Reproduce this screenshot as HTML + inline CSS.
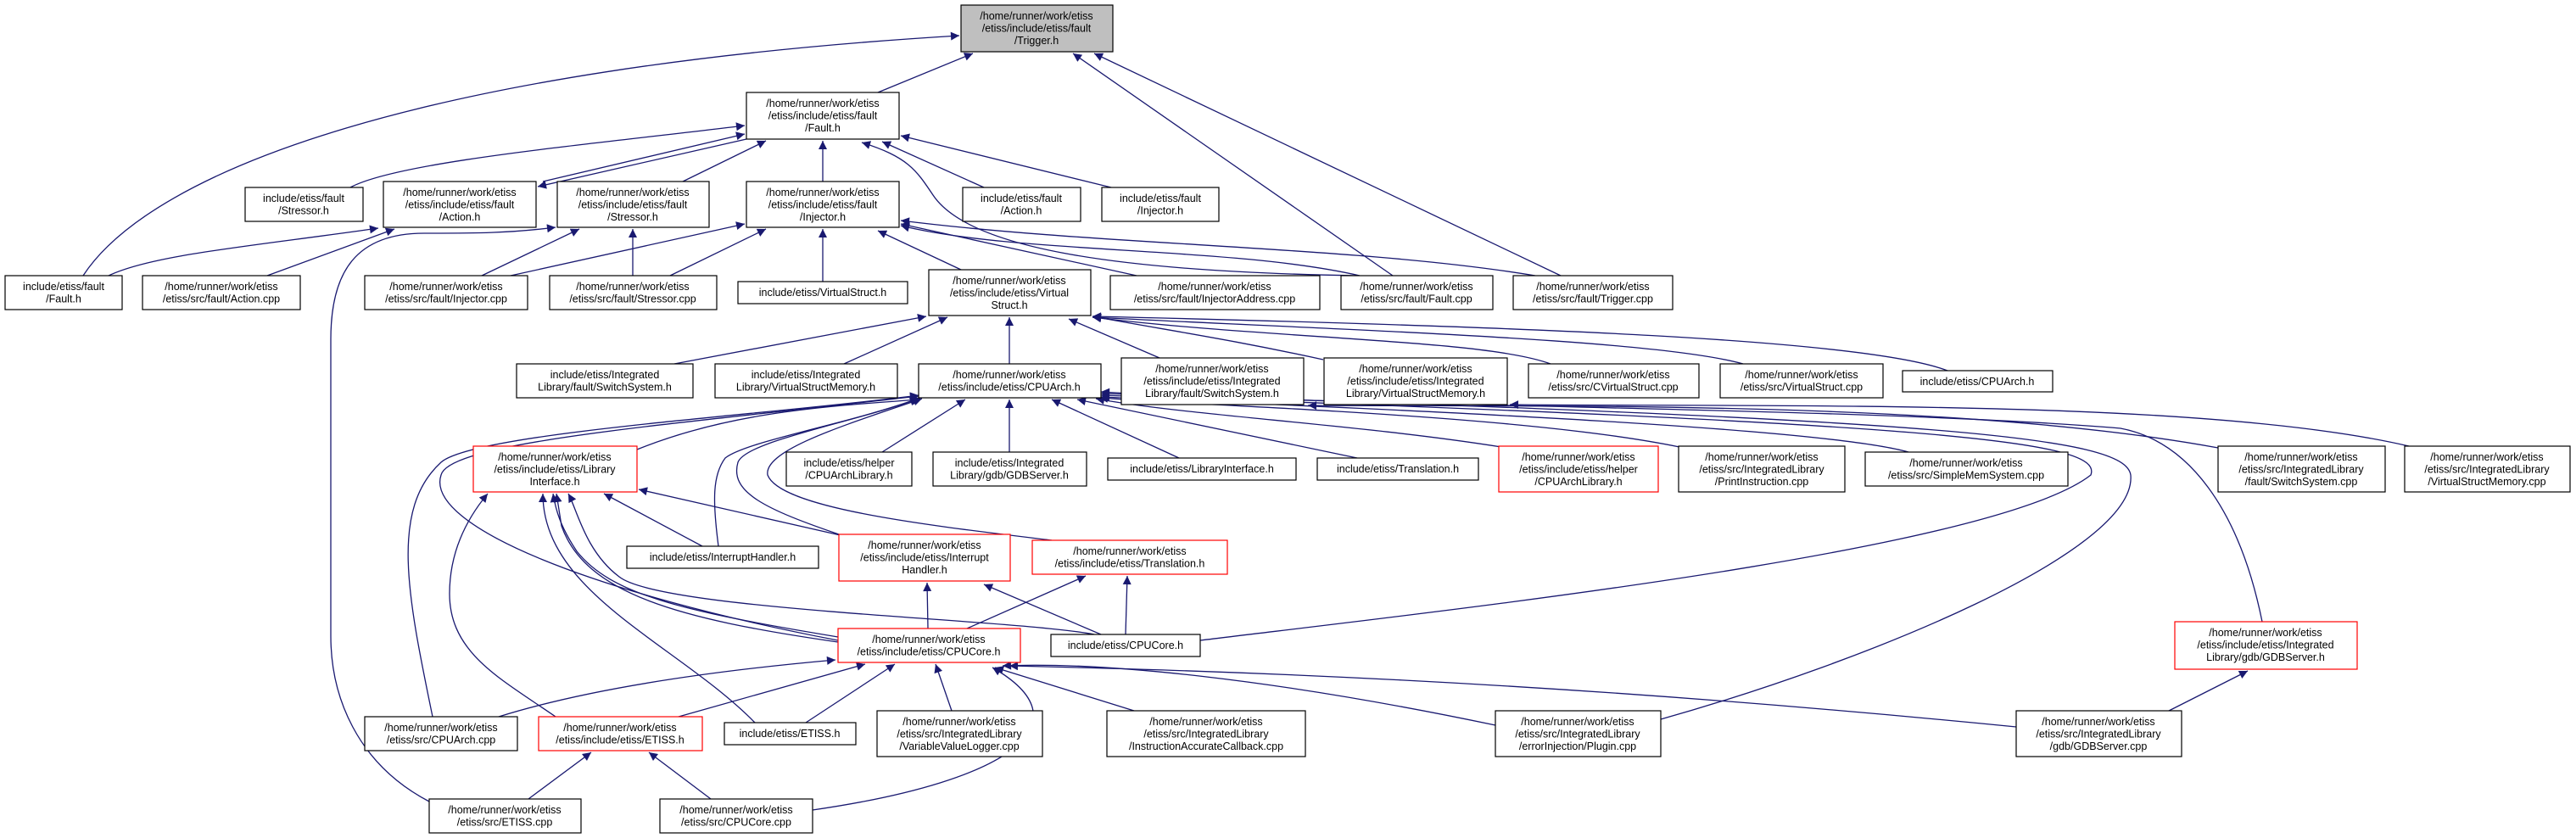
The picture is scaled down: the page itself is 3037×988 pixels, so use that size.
<!DOCTYPE html>
<html><head><meta charset="utf-8"><style>
html,body{margin:0;padding:0;background:#fff;}
svg{display:block}
text{font-family:"Liberation Sans",sans-serif;font-size:12.5px;fill:#000;text-anchor:middle}
.b{fill:#fff;stroke:#000;stroke-width:1.2}
.r{fill:#fff;stroke:#ff0000;stroke-width:1.2}
.g{fill:#bfbfbf;stroke:#000;stroke-width:1.2}
path.e{fill:none;stroke:#191970;stroke-width:1.3;marker-end:url(#ah)}
</style></head><body>
<svg width="3037" height="988" viewBox="0 0 3037 988" xmlns="http://www.w3.org/2000/svg">
<defs><marker id="ah" viewBox="0 0 10 10" refX="10" refY="5" markerWidth="13" markerHeight="10" markerUnits="userSpaceOnUse" orient="auto"><path d="M0,0 L10,5 L0,10 z" fill="#191970"/></marker></defs>

<!-- edges -->
<path class="e" d="M1035,109 L1147,63"/>
<path class="e" d="M98,325 C180,200 500,80 1131,42"/>
<path class="e" d="M1642,325 L1265,63"/>
<path class="e" d="M1840,325 L1290,63"/>
<path class="e" d="M413,221 C470,190 700,170 878,148"/>
<path class="e" d="M640,214 L878,158"/>
<path class="e" d="M880,164 L634,220"/>
<path class="e" d="M805,214 L903,166"/>
<path class="e" d="M970,214 L970,166"/>
<path class="e" d="M1160,221 L1040,167"/>
<path class="e" d="M1310,221 L1062,160"/>
<path class="e" d="M1600,325 C1300,320 1140,290 1100,230 C1080,200 1070,185 1016,168"/>
<path class="e" d="M128,325 C180,300 300,290 446,269"/>
<path class="e" d="M315,325 L465,270"/>
<path class="e" d="M506,945 C420,900 390,820 390,750 L390,400 C390,320 420,275 500,275 C560,275 600,275 655,268"/>
<path class="e" d="M568,325 L683,270"/>
<path class="e" d="M746,325 L746,270"/>
<path class="e" d="M602,325 L878,264"/>
<path class="e" d="M790,325 L903,270"/>
<path class="e" d="M970,332 L970,270"/>
<path class="e" d="M1133,318 L1035,272"/>
<path class="e" d="M1340,325 L1062,264"/>
<path class="e" d="M1603,325 C1450,290 1200,300 1062,266"/>
<path class="e" d="M1810,325 C1600,290 1300,290 1062,260"/>
<path class="e" d="M795,429 L1092,373"/>
<path class="e" d="M995,429 L1117,374"/>
<path class="e" d="M1190,429 L1190,374"/>
<path class="e" d="M1367,422 L1260,376"/>
<path class="e" d="M1560,424 C1450,400 1380,390 1288,373"/>
<path class="e" d="M1828,429 C1750,400 1500,400 1288,374"/>
<path class="e" d="M2055,429 C1950,400 1600,390 1288,374"/>
<path class="e" d="M2296,437 C2200,400 1800,385 1288,373"/>
<path class="e" d="M2615,528 C2300,470 1800,480 1542,478"/>
<path class="e" d="M2840,526 C2600,470 2100,480 1780,477"/>
<path class="e" d="M751,530 C850,490 950,480 1085,471"/>
<path class="e" d="M1040,533 L1138,471"/>
<path class="e" d="M1190,533 L1190,471"/>
<path class="e" d="M1390,540 L1240,471"/>
<path class="e" d="M1600,540 L1270,471"/>
<path class="e" d="M1770,527 C1600,500 1400,490 1292,470"/>
<path class="e" d="M1980,527 C1800,490 1450,480 1296,469"/>
<path class="e" d="M2250,533 C2150,505 1700,485 1298,468"/>
<path class="e" d="M847,644 C840,590 840,560 855,540 C880,520 1000,500 1083,470"/>
<path class="e" d="M995,632 C900,600 860,580 870,545 C880,520 1000,500 1085,469"/>
<path class="e" d="M1240,637 C1100,620 920,600 905,560 C900,530 1000,500 1087,470"/>
<path class="e" d="M988,755 C700,700 500,620 520,560 C530,520 800,500 1083,467"/>
<path class="e" d="M510,845 C480,700 460,600 520,545 C560,510 900,490 1083,466"/>
<path class="e" d="M1415,755 C1700,720 2350,650 2465,560 C2480,520 2300,500 1298,466"/>
<path class="e" d="M1958,848 C2200,780 2520,650 2512,560 C2505,515 2300,495 1298,464"/>
<path class="e" d="M2667,733 C2640,600 2580,520 2500,505 C2200,480 1600,480 1298,462"/>
<path class="e" d="M828,644 L712,582"/>
<path class="e" d="M995,632 L753,577"/>
<path class="e" d="M988,751 C800,720 720,700 680,650 C660,620 655,600 652,582"/>
<path class="e" d="M988,757 C800,730 690,700 662,620 L656,582"/>
<path class="e" d="M655,845 C590,800 530,770 530,700 C530,640 560,600 575,582"/>
<path class="e" d="M890,852 C800,760 640,700 640,582"/>
<path class="e" d="M1290,748 C1200,730 780,720 730,680 C690,650 680,600 670,582"/>
<path class="e" d="M1094,741 L1093,687"/>
<path class="e" d="M1298,748 L1160,689"/>
<path class="e" d="M1140,741 L1280,679"/>
<path class="e" d="M1327,748 L1329,679"/>
<path class="e" d="M588,845 C700,810 850,790 985,778"/>
<path class="e" d="M800,845 L1020,783"/>
<path class="e" d="M950,852 L1055,783"/>
<path class="e" d="M1122,838 L1103,783"/>
<path class="e" d="M1337,838 L1173,787"/>
<path class="e" d="M1763,855 C1500,800 1300,780 1182,785"/>
<path class="e" d="M2377,857 C1800,800 1400,790 1190,785"/>
<path class="e" d="M958,955 C1200,920 1280,850 1170,787"/>
<path class="e" d="M623,942 L697,887"/>
<path class="e" d="M838,942 L765,887"/>
<path class="e" d="M2557,838 L2650,791"/>

<!-- nodes -->
<rect class="g" x="1133" y="6" width="179" height="55"/><text x="1222" y="23"><tspan x="1222">/home/runner/work/etiss</tspan><tspan x="1222" dy="14.5">/etiss/include/etiss/fault</tspan><tspan x="1222" dy="14.5">/Trigger.h</tspan></text>
<rect class="b" x="880" y="109" width="180" height="55"/><text x="970" y="126"><tspan x="970">/home/runner/work/etiss</tspan><tspan x="970" dy="14.5">/etiss/include/etiss/fault</tspan><tspan x="970" dy="14.5">/Fault.h</tspan></text>
<rect class="b" x="289" y="221" width="139" height="40"/><text x="358" y="238"><tspan x="358">include/etiss/fault</tspan><tspan x="358" dy="14.5">/Stressor.h</tspan></text>
<rect class="b" x="452" y="214" width="180" height="54"/><text x="542" y="231"><tspan x="542">/home/runner/work/etiss</tspan><tspan x="542" dy="14.5">/etiss/include/etiss/fault</tspan><tspan x="542" dy="14.5">/Action.h</tspan></text>
<rect class="b" x="657" y="214" width="179" height="54"/><text x="746" y="231"><tspan x="746">/home/runner/work/etiss</tspan><tspan x="746" dy="14.5">/etiss/include/etiss/fault</tspan><tspan x="746" dy="14.5">/Stressor.h</tspan></text>
<rect class="b" x="880" y="214" width="180" height="54"/><text x="970" y="231"><tspan x="970">/home/runner/work/etiss</tspan><tspan x="970" dy="14.5">/etiss/include/etiss/fault</tspan><tspan x="970" dy="14.5">/Injector.h</tspan></text>
<rect class="b" x="1135" y="221" width="139" height="40"/><text x="1204" y="238"><tspan x="1204">include/etiss/fault</tspan><tspan x="1204" dy="14.5">/Action.h</tspan></text>
<rect class="b" x="1299" y="221" width="138" height="40"/><text x="1368" y="238"><tspan x="1368">include/etiss/fault</tspan><tspan x="1368" dy="14.5">/Injector.h</tspan></text>
<rect class="b" x="6" y="325" width="138" height="40"/><text x="75" y="342"><tspan x="75">include/etiss/fault</tspan><tspan x="75" dy="14.5">/Fault.h</tspan></text>
<rect class="b" x="168" y="325" width="186" height="40"/><text x="261" y="342"><tspan x="261">/home/runner/work/etiss</tspan><tspan x="261" dy="14.5">/etiss/src/fault/Action.cpp</tspan></text>
<rect class="b" x="430" y="325" width="192" height="40"/><text x="526" y="342"><tspan x="526">/home/runner/work/etiss</tspan><tspan x="526" dy="14.5">/etiss/src/fault/Injector.cpp</tspan></text>
<rect class="b" x="648" y="325" width="197" height="40"/><text x="746" y="342"><tspan x="746">/home/runner/work/etiss</tspan><tspan x="746" dy="14.5">/etiss/src/fault/Stressor.cpp</tspan></text>
<rect class="b" x="870" y="332" width="200" height="26"/><text x="970" y="349">include/etiss/VirtualStruct.h</text>
<rect class="b" x="1095" y="318" width="191" height="54"/><text x="1190" y="335"><tspan x="1190">/home/runner/work/etiss</tspan><tspan x="1190" dy="14.5">/etiss/include/etiss/Virtual</tspan><tspan x="1190" dy="14.5">Struct.h</tspan></text>
<rect class="b" x="1309" y="325" width="247" height="40"/><text x="1432" y="342"><tspan x="1432">/home/runner/work/etiss</tspan><tspan x="1432" dy="14.5">/etiss/src/fault/InjectorAddress.cpp</tspan></text>
<rect class="b" x="1581" y="325" width="179" height="40"/><text x="1670" y="342"><tspan x="1670">/home/runner/work/etiss</tspan><tspan x="1670" dy="14.5">/etiss/src/fault/Fault.cpp</tspan></text>
<rect class="b" x="1784" y="325" width="188" height="40"/><text x="1878" y="342"><tspan x="1878">/home/runner/work/etiss</tspan><tspan x="1878" dy="14.5">/etiss/src/fault/Trigger.cpp</tspan></text>
<rect class="b" x="609" y="429" width="208" height="40"/><text x="713" y="446"><tspan x="713">include/etiss/Integrated</tspan><tspan x="713" dy="14.5">Library/fault/SwitchSystem.h</tspan></text>
<rect class="b" x="843" y="429" width="215" height="40"/><text x="950" y="446"><tspan x="950">include/etiss/Integrated</tspan><tspan x="950" dy="14.5">Library/VirtualStructMemory.h</tspan></text>
<rect class="b" x="1083" y="429" width="215" height="40"/><text x="1190" y="446"><tspan x="1190">/home/runner/work/etiss</tspan><tspan x="1190" dy="14.5">/etiss/include/etiss/CPUArch.h</tspan></text>
<rect class="b" x="1322" y="422" width="215" height="55"/><text x="1429" y="439"><tspan x="1429">/home/runner/work/etiss</tspan><tspan x="1429" dy="14.5">/etiss/include/etiss/Integrated</tspan><tspan x="1429" dy="14.5">Library/fault/SwitchSystem.h</tspan></text>
<rect class="b" x="1561" y="422" width="216" height="55"/><text x="1669" y="439"><tspan x="1669">/home/runner/work/etiss</tspan><tspan x="1669" dy="14.5">/etiss/include/etiss/Integrated</tspan><tspan x="1669" dy="14.5">Library/VirtualStructMemory.h</tspan></text>
<rect class="b" x="1802" y="429" width="201" height="40"/><text x="1902" y="446"><tspan x="1902">/home/runner/work/etiss</tspan><tspan x="1902" dy="14.5">/etiss/src/CVirtualStruct.cpp</tspan></text>
<rect class="b" x="2028" y="429" width="192" height="40"/><text x="2124" y="446"><tspan x="2124">/home/runner/work/etiss</tspan><tspan x="2124" dy="14.5">/etiss/src/VirtualStruct.cpp</tspan></text>
<rect class="b" x="2243" y="437" width="177" height="25"/><text x="2331" y="454">include/etiss/CPUArch.h</text>
<rect class="r" x="558" y="526" width="193" height="54"/><text x="654" y="543"><tspan x="654">/home/runner/work/etiss</tspan><tspan x="654" dy="14.5">/etiss/include/etiss/Library</tspan><tspan x="654" dy="14.5">Interface.h</tspan></text>
<rect class="b" x="927" y="533" width="148" height="40"/><text x="1001" y="550"><tspan x="1001">include/etiss/helper</tspan><tspan x="1001" dy="14.5">/CPUArchLibrary.h</tspan></text>
<rect class="b" x="1100" y="533" width="181" height="40"/><text x="1190" y="550"><tspan x="1190">include/etiss/Integrated</tspan><tspan x="1190" dy="14.5">Library/gdb/GDBServer.h</tspan></text>
<rect class="b" x="1306" y="540" width="222" height="26"/><text x="1417" y="557">include/etiss/LibraryInterface.h</text>
<rect class="b" x="1553" y="540" width="190" height="26"/><text x="1648" y="557">include/etiss/Translation.h</text>
<rect class="r" x="1767" y="526" width="188" height="54"/><text x="1861" y="543"><tspan x="1861">/home/runner/work/etiss</tspan><tspan x="1861" dy="14.5">/etiss/include/etiss/helper</tspan><tspan x="1861" dy="14.5">/CPUArchLibrary.h</tspan></text>
<rect class="b" x="1979" y="526" width="196" height="54"/><text x="2077" y="543"><tspan x="2077">/home/runner/work/etiss</tspan><tspan x="2077" dy="14.5">/etiss/src/IntegratedLibrary</tspan><tspan x="2077" dy="14.5">/PrintInstruction.cpp</tspan></text>
<rect class="b" x="2199" y="533" width="239" height="40"/><text x="2318" y="550"><tspan x="2318">/home/runner/work/etiss</tspan><tspan x="2318" dy="14.5">/etiss/src/SimpleMemSystem.cpp</tspan></text>
<rect class="b" x="2615" y="526" width="197" height="54"/><text x="2713" y="543"><tspan x="2713">/home/runner/work/etiss</tspan><tspan x="2713" dy="14.5">/etiss/src/IntegratedLibrary</tspan><tspan x="2713" dy="14.5">/fault/SwitchSystem.cpp</tspan></text>
<rect class="b" x="2835" y="526" width="195" height="54"/><text x="2932" y="543"><tspan x="2932">/home/runner/work/etiss</tspan><tspan x="2932" dy="14.5">/etiss/src/IntegratedLibrary</tspan><tspan x="2932" dy="14.5">/VirtualStructMemory.cpp</tspan></text>
<rect class="b" x="739" y="644" width="226" height="26"/><text x="852" y="661">include/etiss/InterruptHandler.h</text>
<rect class="r" x="989" y="630" width="202" height="55"/><text x="1090" y="647"><tspan x="1090">/home/runner/work/etiss</tspan><tspan x="1090" dy="14.5">/etiss/include/etiss/Interrupt</tspan><tspan x="1090" dy="14.5">Handler.h</tspan></text>
<rect class="r" x="1217" y="637" width="230" height="40"/><text x="1332" y="654"><tspan x="1332">/home/runner/work/etiss</tspan><tspan x="1332" dy="14.5">/etiss/include/etiss/Translation.h</tspan></text>
<rect class="r" x="988" y="741" width="215" height="40"/><text x="1095" y="758"><tspan x="1095">/home/runner/work/etiss</tspan><tspan x="1095" dy="14.5">/etiss/include/etiss/CPUCore.h</tspan></text>
<rect class="b" x="1239" y="748" width="176" height="26"/><text x="1327" y="765">include/etiss/CPUCore.h</text>
<rect class="r" x="2564" y="733" width="215" height="56"/><text x="2671" y="750"><tspan x="2671">/home/runner/work/etiss</tspan><tspan x="2671" dy="14.5">/etiss/include/etiss/Integrated</tspan><tspan x="2671" dy="14.5">Library/gdb/GDBServer.h</tspan></text>
<rect class="b" x="430" y="845" width="180" height="40"/><text x="520" y="862"><tspan x="520">/home/runner/work/etiss</tspan><tspan x="520" dy="14.5">/etiss/src/CPUArch.cpp</tspan></text>
<rect class="r" x="635" y="845" width="193" height="40"/><text x="731" y="862"><tspan x="731">/home/runner/work/etiss</tspan><tspan x="731" dy="14.5">/etiss/include/etiss/ETISS.h</tspan></text>
<rect class="b" x="854" y="852" width="155" height="26"/><text x="931" y="869">include/etiss/ETISS.h</text>
<rect class="b" x="1034" y="838" width="195" height="54"/><text x="1131" y="855"><tspan x="1131">/home/runner/work/etiss</tspan><tspan x="1131" dy="14.5">/etiss/src/IntegratedLibrary</tspan><tspan x="1131" dy="14.5">/VariableValueLogger.cpp</tspan></text>
<rect class="b" x="1305" y="838" width="234" height="54"/><text x="1422" y="855"><tspan x="1422">/home/runner/work/etiss</tspan><tspan x="1422" dy="14.5">/etiss/src/IntegratedLibrary</tspan><tspan x="1422" dy="14.5">/InstructionAccurateCallback.cpp</tspan></text>
<rect class="b" x="1763" y="838" width="195" height="54"/><text x="1860" y="855"><tspan x="1860">/home/runner/work/etiss</tspan><tspan x="1860" dy="14.5">/etiss/src/IntegratedLibrary</tspan><tspan x="1860" dy="14.5">/errorInjection/Plugin.cpp</tspan></text>
<rect class="b" x="2377" y="838" width="195" height="54"/><text x="2474" y="855"><tspan x="2474">/home/runner/work/etiss</tspan><tspan x="2474" dy="14.5">/etiss/src/IntegratedLibrary</tspan><tspan x="2474" dy="14.5">/gdb/GDBServer.cpp</tspan></text>
<rect class="b" x="506" y="942" width="179" height="40"/><text x="595" y="959"><tspan x="595">/home/runner/work/etiss</tspan><tspan x="595" dy="14.5">/etiss/src/ETISS.cpp</tspan></text>
<rect class="b" x="778" y="942" width="180" height="40"/><text x="868" y="959"><tspan x="868">/home/runner/work/etiss</tspan><tspan x="868" dy="14.5">/etiss/src/CPUCore.cpp</tspan></text>
</svg>
</body></html>
